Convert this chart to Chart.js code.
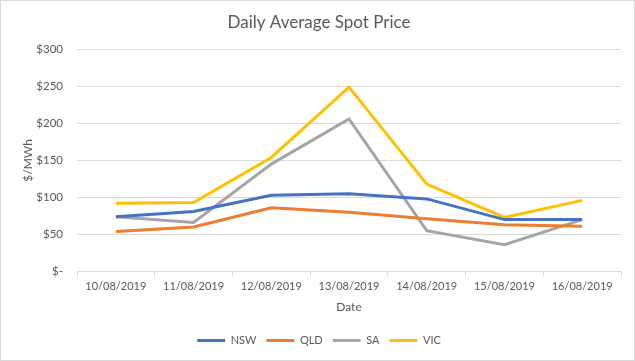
<!DOCTYPE html>
<html>
<head>
<meta charset="utf-8">
<script src="https://cdn.jsdelivr.net/npm/chart.js@4/dist/chart.umd.min.js"></script>
<style>
  html, body { margin: 0; padding: 0; background: #fff; }
  #wrap { width: 635px; height: 361px; box-sizing: border-box; border: 1px solid #d9d9d9; }
</style>
</head>
<body>
<div id="wrap"><canvas id="chart1" width="633" height="359"></canvas></div>
<script>
  // data
  var dates = ['10/08/2019', '11/08/2019', '12/08/2019', '13/08/2019', '14/08/2019', '15/08/2019', '16/08/2019'];
  var nsw = [74, 81, 103, 105, 98, 70, 70];
  var qld = [54, 60, 86, 80, 71, 63, 61];
  var sa  = [74, 66, 145, 206, 55, 36, 70];
  var vic = [92, 93, 154, 249, 118, 73, 96];
  var yTicks = [0, 50, 100, 150, 200, 250, 300];

  var txt = '#595959';
  var font = "Lato, 'Open Sans', sans-serif";
  Chart.defaults.font.family = font;
  Chart.defaults.color = txt;

  function series(label, data, color) {
    return {
      label: label,
      data: data,
      borderColor: color,
      backgroundColor: color,
      borderWidth: 3,
      pointRadius: 0,
      tension: 0,
      fill: false
    };
  }

  var ctx = document.getElementById('chart1').getContext('2d');
  var myChart = new Chart(ctx, {
    type: 'line',
    data: {
      labels: dates,
      datasets: [
        series('NSW', nsw, '#4472C4'),
        series('QLD', qld, '#ED7D31'),
        series('SA', sa, '#A5A5A5'),
        series('VIC', vic, '#FFC000')
      ]
    },
    options: {
      responsive: false,
      animation: false,
      layout: { padding: { left: 16, right: 13, top: 9, bottom: 4 } },
      plugins: {
        title: {
          display: true,
          text: 'Daily Average Spot Price',
          color: txt,
          font: { size: 17, weight: 'normal' },
          padding: { top: 2, bottom: 17 }
        },
        legend: {
          position: 'bottom',
          labels: {
            boxWidth: 28,
            boxHeight: 3,
            padding: 10,
            color: txt,
            font: { size: 11 },
            generateLabels: function (chart) {
              return Chart.defaults.plugins.legend.labels.generateLabels(chart).map(function (l) {
                l.lineWidth = 0;
                return l;
              });
            }
          }
        },
        tooltip: { enabled: false }
      },
      scales: {
        x: {
          offset: true,
          grid: { offset: true, drawOnChartArea: false, color: '#d9d9d9', tickLength: 5 },
          border: { color: '#d9d9d9' },
          ticks: { color: txt, font: { size: 11 }, maxRotation: 0, padding: 3 },
          title: { display: true, text: 'Date', color: txt, font: { size: 12 }, padding: { top: 4, bottom: 11 } }
        },
        y: {
          min: 0,
          max: 300,
          afterBuildTicks: function (axis) {
            axis.ticks = yTicks.map(function (v) { return { value: v }; });
          },
          afterFit: function (axis) { axis.width = 60; },
          grid: { color: '#d9d9d9', drawTicks: false },
          border: { display: false },
          ticks: {
            color: txt,
            font: { size: 11.5 },
            padding: 14,
            callback: function (v) { return v === 0 ? '$-' : '$' + v; }
          },
          title: { display: true, text: '$/MWh', color: txt, font: { size: 12 }, padding: { bottom: 4 } }
        }
      }
    }
  });
</script>
</body>
</html>
